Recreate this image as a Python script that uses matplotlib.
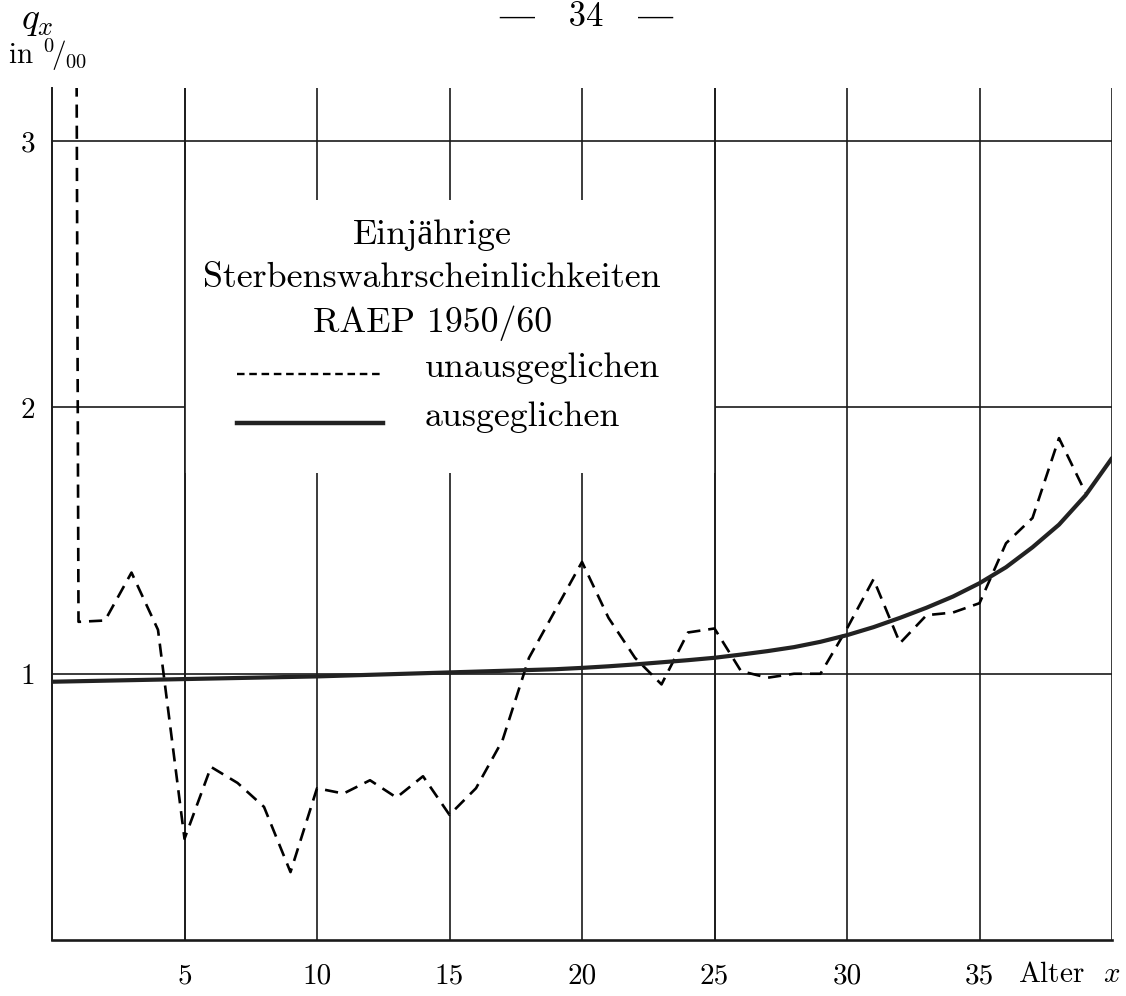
import matplotlib
matplotlib.use("Agg")
import matplotlib.pyplot as plt
from matplotlib.patches import Rectangle

plt.rcParams['font.family'] = ['cmr10', 'Liberation Serif']
plt.rcParams['mathtext.fontset'] = 'cm'
plt.rcParams['axes.formatter.use_mathtext'] = True

# ---- data ----
ages_raw = [0, 1, 2, 3, 4, 5, 6, 7, 8, 9, 10, 11, 12, 13, 14, 15, 16, 17, 18, 19,
            20, 21, 22, 23, 24, 25, 26, 27, 28, 29, 30, 31, 32, 33, 34, 35, 36, 37, 38, 39]
q_raw = [30.0, 1.195, 1.20, 1.38, 1.165, 0.38, 0.65, 0.59, 0.50, 0.255, 0.57, 0.55, 0.60,
         0.535, 0.615, 0.47, 0.57, 0.75, 1.06, 1.24, 1.42, 1.21, 1.06, 0.96, 1.155, 1.17,
         1.01, 0.985, 1.00, 1.00, 1.17, 1.355, 1.115, 1.22, 1.23, 1.265, 1.49, 1.585, 1.885, 1.68]

ages_smooth = list(range(0, 41))
q_smooth = [0.970, 0.972, 0.974, 0.976, 0.978, 0.980, 0.982, 0.984, 0.986, 0.988,
            0.990, 0.993, 0.996, 0.999, 1.002, 1.005, 1.008, 1.011, 1.014, 1.017,
            1.022, 1.028, 1.035, 1.043, 1.051, 1.060, 1.072, 1.085, 1.100, 1.120,
            1.145, 1.175, 1.210, 1.248, 1.290, 1.340, 1.400, 1.475, 1.560, 1.670, 1.810]

x_ticks = [5, 10, 15, 20, 25, 30, 35]
x_grid = [5, 10, 15, 20, 25, 30, 35, 40]
y_grid = [1, 2, 3]
y_ticks = [1, 2, 3]

title_lines = ["Einjährige", "Sterbenswahrscheinlichkeiten", "RAEP 1950/60"]
label_raw = "unausgeglichen"
label_smooth = "ausgeglichen"

# ---- figure ----
fig = plt.figure(figsize=(11.26, 9.96), dpi=100)
ax = fig.add_axes([52/1126, 56/996, (1112-52)/1126, (940-88)/996])
ax.set_xlim(0, 40)
ax.set_ylim(0, 3.2)

gc = '#1a1a1a'
ax.vlines(x_grid, 0, 3.2, colors=gc, lw=1.2, zorder=1)
ax.hlines(y_grid, 0, 40, colors=gc, lw=1.2, zorder=1)

# white legend box interrupting the grid
box = (5, 1.755, 20, 2.78 - 1.755)
ax.add_patch(Rectangle(box[:2], box[2], box[3], facecolor='white', edgecolor='none', zorder=2))
ax.vlines([5, 25], 0, 3.2, colors=gc, lw=1.2, zorder=3)

# data lines
ax.plot(ages_raw, q_raw, color='black', lw=1.9, dashes=(5.0, 3.0), zorder=4)
ax.plot(ages_smooth, q_smooth, color='#222222', lw=3.0, solid_capstyle='round', zorder=5)

# legend text
fs_leg = 25.8
title_y = [2.613, 2.451, 2.282]
for t, yy in zip(title_lines, title_y):
    ax.text(14.35, yy, t, ha='center', va='baseline', fontsize=fs_leg, zorder=6)
ax.plot([6.98, 12.49], [2.125, 2.125], color='black', lw=1.7, dashes=(3.2, 2.0), zorder=6)
ax.plot([6.98, 12.49], [1.94, 1.94], color='#222222', lw=3.2, zorder=6)
ax.text(14.08, 2.113, label_raw, ha='left', va='baseline', fontsize=fs_leg, zorder=6)
ax.text(14.08, 1.929, label_smooth, ha='left', va='baseline', fontsize=fs_leg, zorder=6)

# axes styling
for s in ['top', 'right']:
    ax.spines[s].set_visible(False)
ax.spines['left'].set_linewidth(1.4)
ax.spines['bottom'].set_linewidth(1.9)
ax.spines['left'].set_color(gc)
ax.spines['bottom'].set_color(gc)
ax.set_xticks(x_ticks)
ax.set_xticklabels([str(v) for v in x_ticks])
ax.set_yticks(y_ticks)
ax.set_yticklabels([str(v) for v in y_ticks])
ax.tick_params(axis='x', length=0, pad=17, labelsize=21)
ax.tick_params(axis='y', length=0, pad=12, labelsize=21)

ax.annotate("Alter  $x$", xy=(38.4, 0), xycoords=ax.get_xaxis_transform(),
            xytext=(0, -25), textcoords='offset points', ha='center', va='center',
            fontsize=21)

fig.text(37/1126, 1 - 21/996, "$q_x$", ha='center', va='center', fontsize=27)
fig.text(8/1126, 1 - 55/996, r"in $^0\!/_{00}$", ha='left', va='center', fontsize=21)
fig.text(586/1126, 1 - 17/996, "—   34   —", ha='center', va='center', fontsize=25)

fig.savefig("out.png", dpi=100)
